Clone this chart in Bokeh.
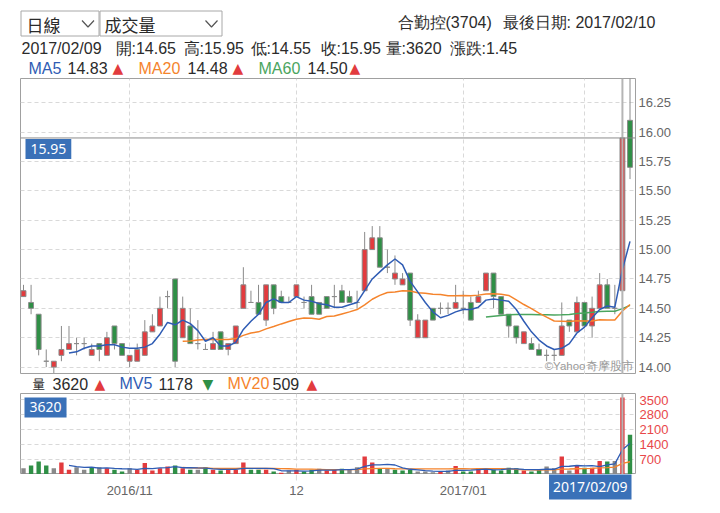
import numpy as np
import pandas as pd
from bokeh.plotting import figure
from bokeh.models import Range1d, FixedTicker, PrintfTickFormatter, Span, Label, ColumnDataSource
from bokeh.layouts import column
from bokeh.core.properties import value
from bokeh.embed import file_html
from bokeh.resources import INLINE

# ---------------- data ----------------
OPEN = [14.60, 14.55, 14.45, 14.05, 14.00, 14.10, 14.15, 14.20, 14.20, 14.10,
        14.20, 14.10, 14.35, 14.20, 14.05, 14.05, 14.10, 14.30, 14.35, 14.60,
        14.75, 14.25, 14.35, 14.20, 14.15, 14.15, 14.30, 14.15, 14.20, 14.50,
        14.55, 14.55, 14.40, 14.70, 14.60, 14.55, 14.60, 14.55, 14.60, 14.55,
        14.60, 14.60, 14.65, 14.60, 14.55, 14.65, 15.00, 15.10, 14.85, 14.75,
        14.70, 14.80, 14.25, 14.25, 14.50, 14.50, 14.50, 14.50, 14.50, 14.55,
        14.55, 14.65, 14.80, 14.60, 14.45, 14.35, 14.20, 14.20, 14.15, 14.10,
        14.10, 14.10, 14.40, 14.30, 14.55, 14.35, 14.50, 14.70, 14.50, 14.65,
        16.10]
HIGH = [14.70, 14.70, 14.45, 14.15, 14.05, 14.35, 14.35, 14.25, 14.25, 14.20,
        14.20, 14.30, 14.35, 14.20, 14.10, 14.20, 14.40, 14.45, 14.60, 14.65,
        14.75, 14.60, 14.50, 14.40, 14.20, 14.30, 14.30, 14.20, 14.35, 14.85,
        14.65, 14.70, 14.70, 14.70, 14.65, 14.60, 14.70, 14.60, 14.70, 14.55,
        14.60, 14.70, 14.70, 14.65, 14.65, 15.15, 15.20, 15.20, 15.00, 14.95,
        14.80, 14.80, 14.45, 14.40, 14.50, 14.55, 14.55, 14.70, 14.65, 14.60,
        14.65, 14.80, 14.80, 14.60, 14.45, 14.35, 14.30, 14.25, 14.20, 14.15,
        14.15, 14.55, 14.40, 14.60, 14.55, 14.60, 14.80, 14.75, 14.70, 15.95,
        16.50]
LOW = [14.60, 14.45, 14.10, 14.00, 13.95, 14.05, 14.15, 14.10, 14.15, 14.10,
       14.05, 14.10, 14.15, 14.10, 14.00, 14.05, 14.10, 14.30, 14.35, 14.50,
       14.00, 14.25, 14.20, 14.15, 14.15, 14.15, 14.15, 14.10, 14.20, 14.50,
       14.55, 14.45, 14.35, 14.45, 14.55, 14.55, 14.60, 14.50, 14.45, 14.45,
       14.50, 14.50, 14.55, 14.55, 14.50, 14.65, 15.00, 14.85, 14.80, 14.70,
       14.70, 14.35, 14.25, 14.25, 14.40, 14.45, 14.45, 14.50, 14.45, 14.40,
       14.55, 14.65, 14.50, 14.45, 14.25, 14.20, 14.20, 14.15, 14.10, 14.05,
       14.05, 14.10, 14.30, 14.30, 14.35, 14.25, 14.50, 14.50, 14.45, 14.55,
       15.60]
CLOSE = [14.65, 14.50, 14.15, 14.05, 14.05, 14.15, 14.20, 14.20, 14.20, 14.15,
         14.15, 14.25, 14.20, 14.10, 14.10, 14.15, 14.30, 14.35, 14.50, 14.60,
         14.05, 14.50, 14.20, 14.20, 14.15, 14.20, 14.15, 14.20, 14.35, 14.70,
         14.55, 14.45, 14.70, 14.50, 14.55, 14.55, 14.70, 14.55, 14.45, 14.45,
         14.50, 14.60, 14.55, 14.55, 14.55, 15.00, 15.10, 14.85, 14.85, 14.80,
         14.75, 14.40, 14.40, 14.40, 14.40, 14.50, 14.50, 14.55, 14.50, 14.40,
         14.60, 14.80, 14.60, 14.45, 14.35, 14.25, 14.30, 14.15, 14.10, 14.10,
         14.10, 14.35, 14.35, 14.55, 14.35, 14.50, 14.70, 14.50, 14.50, 15.95,
         15.70]
VOLUME = [290, 416, 606, 416, 290, 558, 211, 337, 211, 337,
          337, 290, 211, 132, 290, 211, 527, 180, 290, 369,
          416, 290, 211, 211, 337, 211, 180, 211, 211, 558,
          211, 211, 211, 132, 70, 180, 211, 132, 211, 259,
          180, 211, 259, 211, 337, 842, 558, 290, 290, 211,
          180, 211, 132, 132, 100, 132, 180, 385, 132, 132,
          290, 290, 211, 180, 306, 290, 180, 132, 211, 369,
          290, 842, 180, 385, 306, 306, 621, 606, 621, 3620,
          1867]

MONTH_IDX = [14, 36, 58, 74]            # first trading day of Nov, Dec, Jan, Feb
MONTH_LABELS = ["2016/11", "12", "2017/01"]
SEL = 79                                 # 2017/02/09 (cursor)
SEL_DATE = "2017/02/09"
PRICE_TICKS = [14.00, 14.25, 14.50, 14.75, 15.00, 15.25, 15.50, 15.75, 16.00, 16.25]
VOL_TICKS = [700, 1400, 2100, 2800, 3500]

# ---------------- styling ----------------
FONT = "Liberation Sans"
FONT_BOX = "Noto Sans"
FONT_CJK = "Noto Sans CJK TC"
FONT_TRI = "DejaVu Sans"
RED, GREEN, GRAY = "#e23b3e", "#2f8f46", "#8a8a8a"
C_MA5, C_MA20, C_MA60 = "#2f5cb4", "#f5842c", "#4aa55e"
LBLUE = "#3a71b8"
GRID = "#d9d9d9"
TXT = "#2b2b2b"

o, h, l, c = (np.array(a, dtype=float) for a in (OPEN, HIGH, LOW, CLOSE))
vol = np.array(VOLUME, dtype=float)
N = len(c)
idx = np.arange(N)
prev = np.r_[np.nan, c[:-1]]
body_col = np.where(c > o, RED, np.where(c < o, GREEN, GRAY))
vol_col = np.where(c > prev, RED, np.where(c < prev, GREEN, GRAY))


def mavg(arr, w):
    s = pd.Series(arr).rolling(w).mean()
    s.iloc[:w + 1] = np.nan
    return s.values


src = ColumnDataSource(dict(
    x=idx, high=h, low=l, top=np.maximum(o, c), bottom=np.minimum(o, c), color=body_col,
    ma5=mavg(c, 5), ma20=mavg(c, 20), ma60=mavg(c, 60),
    vol=vol, vcolor=vol_col, mv5=mavg(vol, 5), mv20=mavg(vol, 20)))

W = 712
BL, BR = 20, 77                      # frame spans page x 20..635
X0, X1 = -0.396, 80.725
xr = Range1d(X0, X1)


def lab(fig, x, y, text, color=TXT, size="16px", font=FONT, align="left", **kw):
    fig.add_layout(Label(x=x, y=y, text=text, text_color=color, text_font=font,
                         text_font_size=size, text_align=align, text_baseline="middle", **kw))


def text_fig(height):
    f = figure(width=W, height=height, y_range=Range1d(height, 0),
               x_axis_location=None, y_axis_location=None, output_backend="svg",
               toolbar_location=None, min_border=0)
    try:
        f.frame_align = False
        f.x_range = Range1d(0, W)
    except Exception:
        f.min_border_left = BL
        f.min_border_right = BR
        f.x_range = Range1d(BL, W - BR)
    f.outline_line_color = None
    f.grid.visible = False
    return f


def panel(height, yr, top, bottom):
    f = figure(width=W, height=height, x_range=xr, y_range=yr,
               x_axis_location=None, y_axis_location="right", output_backend="svg",
               toolbar_location=None, min_border_left=BL, min_border_right=BR,
               min_border_top=top, min_border_bottom=bottom)
    f.outline_line_color = "#a0a0a0"
    f.ygrid.grid_line_color = GRID
    f.ygrid.grid_line_dash = "4 3"
    f.xgrid.ticker = FixedTicker(ticks=MONTH_IDX)
    f.xgrid.grid_line_color = GRID
    f.xgrid.grid_line_dash = "4 3"
    ay = f.yaxis[0]
    ay.axis_line_color = None
    ay.major_tick_line_color = None
    ay.minor_tick_line_color = None
    ay.major_tick_out = 0
    ay.major_tick_in = 0
    ay.major_label_text_font = FONT
    ay.major_label_text_font_size = "13px"
    f.add_layout(Span(location=SEL, dimension="height", line_color="#b5b5b5", line_width=2))
    return f


# ---------------- header ----------------
hdr = text_fig(77)
hdr.quad(left=[20.5, 99.5], right=[98.5, 221.5], top=[10.5, 10.5], bottom=[35.5, 35.5],
         fill_color="white", line_color="#a8a8a8", line_width=1)
hdr.multi_line(xs=[[81.5, 87.5, 93.5], [205, 211, 217]], ys=[[20, 26.5, 20], [20, 26.5, 20]],
               line_color="#555555", line_width=1.2)
lab(hdr, 26, 23.5, "日線", size="17px", font=FONT_CJK)
lab(hdr, 104, 23.5, "成交量", size="17px", font=FONT_CJK)
lab(hdr, 397, 21.7, "合勤控(3704)")
lab(hdr, 502, 21.7, "最後日期: 2017/02/10")
for x, t in [(21, "2017/02/09"), (115, "開:14.65"), (183, "高:15.95"), (250, "低:14.55"),
             (320, "收:15.95"), (385, "量:3620"), (449, "漲跌:1.45")]:
    lab(hdr, x, 47.7, t)
for x, t, col in [(28, "MA5", C_MA5), (67, "14.83", TXT), (112, "▲", RED),
                  (138, "MA20", C_MA20), (187, "14.48", TXT), (232, "▲", RED),
                  (258, "MA60", C_MA60), (307, "14.50", TXT), (349, "▲", RED)]:
    if t == "▲":
        lab(hdr, x, 67.9, t, color=col, size="14px", font=FONT_TRI)
    else:
        lab(hdr, x, 67.9, t, color=col)

# ---------------- price panel ----------------
p = panel(297, Range1d(13.937, 16.456), 1, 0)
ay = p.yaxis[0]
ay.ticker = FixedTicker(ticks=PRICE_TICKS)
ay.formatter = PrintfTickFormatter(format="%.2f")
ay.major_label_text_color = "#666666"
ay.major_label_standoff = 3
p.add_layout(Span(location=c[SEL], dimension="width", line_color="#8c8c8c", line_width=1))
p.segment(x0="x", y0="low", x1="x", y1="high", source=src, line_color="#8a8a8a", line_width=1)
p.vbar(x="x", width=0.64, top="top", bottom="bottom", source=src,
       fill_color="color", line_color="#8a8a8a", line_width=1)
p.line("x", "ma60", source=src, line_color=C_MA60, line_width=1.5)
p.line("x", "ma20", source=src, line_color=C_MA20, line_width=1.5)
p.line("x", "ma5", source=src, line_color=C_MA5, line_width=1.5)
p.add_layout(Label(x=X0, y=c[SEL], text=f"{c[SEL]:.2f}", text_color="white", text_font=FONT_BOX,
                   text_font_size="14px", text_align="left", text_baseline="top",
                   x_offset=5, y_offset=-1, padding=5, background_fill_color=LBLUE))
p.add_layout(Label(x=X1, y=14.0, text="©Yahoo奇摩股市", text_color="#9a9a9a", text_font=FONT,
                   text_font_size="11.5px", text_align="right", text_baseline="middle",
                   x_offset=-2, y_offset=1.5))

# ---------------- middle legend ----------------
mid = text_fig(18)
for x, t, col in [(32, "量", TXT), (52, "3620", TXT), (94, "▲", RED),
                  (119, "MV5", C_MA5), (158, "1178", TXT), (202, "▼", GREEN),
                  (227, "MV20", C_MA20), (272, "509", TXT), (306, "▲", RED)]:
    if t in ("▲", "▼"):
        lab(mid, x, 9.5, t, color=col, size="14px", font=FONT_TRI)
    elif t == "量":
        lab(mid, x, 9, t, color=col, size="12.4px", font=FONT_CJK)
    else:
        lab(mid, x, 9, t, color=col)

# ---------------- volume panel ----------------
v = panel(82, Range1d(-10, 3806), 1, 0)
vy = v.yaxis[0]
vy.ticker = FixedTicker(ticks=VOL_TICKS)
vy.formatter = PrintfTickFormatter(format="%d")
vy.major_label_text_color = "#e8474a"
vy.major_label_standoff = 4
v.vbar(x="x", width=0.58, top="vol", bottom=0, source=src, fill_color="vcolor", line_color=None)
v.line("x", "mv20", source=src, line_color=C_MA20, line_width=1.3)
v.line("x", "mv5", source=src, line_color=C_MA5, line_width=1.3)
v.add_layout(Label(x=X0, y=vol[SEL], text=f"{int(vol[SEL])}", text_color="white", text_font=FONT_BOX,
                   text_font_size="14px", text_align="left", text_baseline="top",
                   x_offset=4, y_offset=0, padding=5, background_fill_color=LBLUE))

# ---------------- date strip (month labels + cursor date) ----------------
xf = figure(width=W, height=31, x_range=xr, y_range=Range1d(31, 0),
            x_axis_location=None, y_axis_location=None, output_backend="svg",
            toolbar_location=None, min_border_left=BL, min_border_right=BR,
            min_border_top=0, min_border_bottom=0)
xf.outline_line_color = None
xf.grid.visible = False
xf.segment(x0=MONTH_IDX, y0=0, x1=MONTH_IDX, y1=6, line_color=GRID, line_width=1)
xf.text(x=MONTH_IDX[:3], y=16, text=MONTH_LABELS, text_font=value(FONT),
        text_font_size="13px", text_color="#666666", text_align="center", text_baseline="middle")
xf.add_layout(Label(x=X1, y=11.5, text=SEL_DATE, text_color="white", text_font=FONT_BOX,
                    text_font_size="14px", text_align="right", text_baseline="middle",
                    x_offset=-4, padding=4, background_fill_color=LBLUE))

layout = column(hdr, p, mid, v, xf, spacing=0)
open("out.html", "w").write(file_html(layout, INLINE))
